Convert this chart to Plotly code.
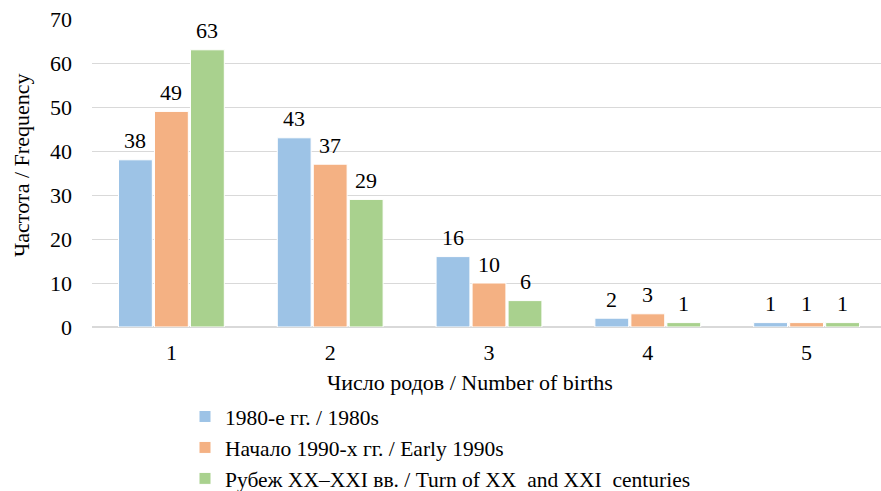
import plotly.graph_objects as go

births = [1, 2, 3, 4, 5]
series_names = [
    "1980-е гг. / 1980s",
    "Начало 1990-х гг. / Early 1990s",
    "Рубеж XX–XXI вв. / Turn of XX  and XXI  centuries",
]
freq_1980s = [38, 43, 16, 2, 1]
freq_early_1990s = [49, 37, 10, 3, 1]
freq_turn_century = [63, 29, 6, 1, 1]
y_ticks = [0, 10, 20, 30, 40, 50, 60, 70]

series_values = [freq_1980s, freq_early_1990s, freq_turn_century]
colors = ["#9DC3E6", "#F4B183", "#A9D18E"]

FONT = "Liberation Serif, Times New Roman, DejaVu Serif, serif"
FS = 22
BARGAP = 0.32

fig = go.Figure()
for i, (name, vals, col) in enumerate(zip(series_names, series_values, colors)):
    fig.add_trace(go.Bar(
        x=births, y=vals, name=name,
        marker=dict(color=col, line=dict(color="white", width=1)),
        legendgroup=f"g{i}",
    ))

# value labels above each bar
slot = (1 - BARGAP) / 3
annotations = []
for i, vals in enumerate(series_values):
    for xv, yv in zip(births, vals):
        annotations.append(dict(
            x=xv + (i - 1) * slot, y=yv, xref="x", yref="y",
            text=str(yv), showarrow=False, xanchor="center", yanchor="middle", yshift=19,
            font=dict(family=FONT, size=FS, color="#000000"),
        ))

# axis titles (pixel positions converted to paper coordinates below)
annotations.append(dict(
    x=470, y=382, xref="paper", yref="paper", text="Число родов / Number of births",
    showarrow=False, xanchor="center", yanchor="middle",
    font=dict(family=FONT, size=FS, color="#000000"),
))
annotations.append(dict(
    x=21, y=166, xref="paper", yref="paper", text="Частота / Frequency", textangle=-90,
    showarrow=False, xanchor="center", yanchor="middle",
    font=dict(family=FONT, size=FS, color="#000000"),
))

W, H = 881, 491
L, R, T, B = 92, 0, 19, 164
pw, ph = W - L - R, H - T - B
for a in annotations[-2:]:
    a["x"] = (a["x"] - L) / pw
    a["y"] = (H - B - a["y"]) / ph

fig.update_layout(
    width=W, height=H,
    margin=dict(l=L, r=R, t=T, b=B, autoexpand=False),
    paper_bgcolor="white", plot_bgcolor="white",
    barmode="group", bargap=BARGAP, bargroupgap=0.06,
    font=dict(family=FONT, size=FS, color="#000000"),
    annotations=annotations,
    showlegend=True,
    legend=dict(
        x=(185 - L) / pw, y=(H - B - 396) / ph, xanchor="left", yanchor="top",
        traceorder="grouped", tracegroupgap=0,
        font=dict(family=FONT, size=21.5, color="#000000"),
        bgcolor="rgba(0,0,0,0)",
    ),
    xaxis=dict(
        range=[0.5, 5.5 - 5 / 158.75], tickvals=births, ticktext=[str(b) for b in births],
        showgrid=False, showline=True, linecolor="#D9D9D9", linewidth=1,
        ticks="", ticklabelstandoff=6, zeroline=False,
        tickfont=dict(family=FONT, size=FS, color="#000000"),
    ),
    yaxis=dict(
        range=[0, 70], tickvals=y_ticks, showgrid=True, gridcolor="#D9D9D9", gridwidth=1,
        zeroline=True, zerolinecolor="#D9D9D9", showline=False, ticks="",
        ticklabelstandoff=19,
        tickfont=dict(family=FONT, size=FS, color="#000000"),
    ),
)

fig.write_html("out.html")
